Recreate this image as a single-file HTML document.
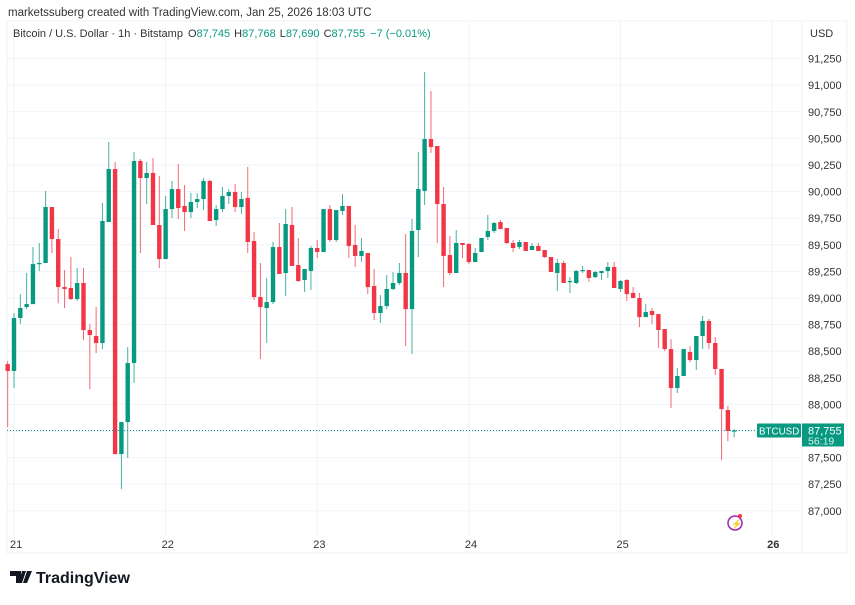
<!DOCTYPE html>
<html><head><meta charset="utf-8">
<style>
body{margin:0;background:#fff;width:855px;height:600px;overflow:hidden;font-family:"Liberation Sans",sans-serif;}
svg text{font-family:"Liberation Sans",sans-serif;}
</style></head>
<body>
<svg id="chart" width="855" height="600" viewBox="0 0 855 600" xmlns="http://www.w3.org/2000/svg">
<rect x="0" y="0" width="855" height="600" fill="#fff"/>
<text x="8" y="16" font-size="11.5" fill="#333">marketssuberg created with TradingView.com, Jan 25, 2026 18:03 UTC</text>
<rect x="7" y="21" width="840" height="532" fill="none" stroke="#eef0f3"/>
<line x1="802" y1="21" x2="802" y2="553" stroke="#eef0f3"/>
<g id="grid"></g>
<g id="candles"></g>
<g id="axes"></g>
<text y="37" font-size="11" fill="#333"><tspan x="13">Bitcoin / U.S. Dollar · 1h · Bitstamp</tspan><tspan dx="5">O</tspan><tspan fill="#089981">87,745</tspan><tspan dx="4">H</tspan><tspan fill="#089981">87,768</tspan><tspan dx="4">L</tspan><tspan fill="#089981">87,690</tspan><tspan dx="4">C</tspan><tspan fill="#089981">87,755</tspan><tspan dx="5" fill="#089981">−7 (−0.01%)</tspan></text>
<text x="810" y="37" font-size="11" fill="#333">USD</text>
<g>
<path d="M10 571h11v12h-5v-7h-6z M22 571h4l-4 12h-3z M27 571h5l-5 12h-4z" fill="#131722"/>
<text x="36" y="583" font-size="16" font-weight="bold" fill="#131722">TradingView</text>
</g>
<g>
<circle cx="735" cy="523" r="7" fill="none" stroke="#9c27b0" stroke-width="1.5"/>
<text x="731" y="527" font-size="9" fill="#9c27b0">⚡</text>
<circle cx="740" cy="516" r="2" fill="#f23645"/>
</g>
</svg>
<script>
const opens=[88379,88314,88812,88915,88943,89319,89329,89855,89554,89103,89094,88990,89141,88699,88643,88577,89714,90212,87533,87834,88389,90288,90128,90175,89686,89366,89836,90024,89865,89808,89902,89930,90100,89733,89836,89959,89996,89855,89940,89536,89009,88906,88962,89479,89235,89686,89310,89169,89254,89470,89432,89836,89545,89818,89865,89498,89395,89423,89113,88859,88925,89085,89141,89235,88896,89639,90006,90494,90429,89883,89404,89235,89517,89507,89338,89432,89573,89630,89714,89658,89517,89479,89526,89451,89489,89451,89385,89235,89329,89150,89141,89254,89263,89197,89235,89254,89291,89085,89169,89047,89000,88821,88878,88849,88708,88520,88154,88267,88492,88417,88643,88784,88577,88333,87947,87745];
const highs=[88408,88859,89037,89235,89479,89517,90006,89855,89649,89263,89385,89282,89282,88755,88915,89893,90466,90278,87834,88539,90372,90306,90278,90316,90147,89959,90100,90259,90062,89987,89987,90128,90109,89874,90043,90024,90071,89996,90231,89620,89329,89188,89526,89705,89836,89855,89564,89273,89489,89545,89836,89874,89827,89977,89865,89686,89564,89423,89273,89028,89216,89244,89329,89601,89742,90372,91124,90946,90429,90043,89583,89639,89517,89517,89470,89564,89780,89714,89733,89658,89545,89545,89526,89517,89517,89451,89385,89367,89348,89197,89263,89301,89263,89254,89254,89338,89338,89169,89178,89103,89047,88943,88906,88849,88708,88614,88342,88520,88548,88643,88831,88803,88633,88333,87985,87768];
const lows=[87787,88154,88755,88896,88943,89254,89329,89423,88950,88906,88981,88972,88605,88144,88483,88520,89714,87533,87204,87496,88201,89423,89883,89686,89282,89366,89752,89742,89630,89752,89846,89827,89724,89677,89808,89883,89808,89790,89423,88981,88426,88577,88943,89226,89019,89301,89150,89056,89075,89376,89432,89526,89526,89780,89376,89291,89338,89037,88793,88765,88896,89075,89122,88549,88473,89385,89874,90363,89517,89103,89216,89235,89376,89319,89338,89432,89545,89611,89648,89507,89432,89460,89442,89451,89442,89376,89244,89066,89141,89047,89131,89235,89150,89188,89169,89188,89094,89056,88972,89000,88727,88821,88755,88530,88502,87966,88107,88267,88398,88323,88520,88520,88276,87477,87655,87690];
const closes=[88314,88812,88906,88943,89319,89329,89855,89554,89103,89085,88990,89141,88699,88652,88577,89724,90212,87533,87834,88389,90288,90128,90175,89686,89366,89836,90024,89846,89808,89902,89930,90100,89724,89836,89959,89996,89855,89930,89526,89009,88915,88962,89479,89226,89695,89301,89160,89273,89470,89432,89836,89545,89827,89865,89489,89395,89442,89103,88859,88925,89085,89141,89235,88896,89630,90024,90494,90419,89883,89395,89235,89517,89498,89338,89423,89564,89630,89705,89648,89517,89470,89526,89442,89489,89442,89385,89244,89329,89141,89160,89254,89263,89188,89244,89254,89291,89094,89160,89037,89000,88821,88868,88840,88699,88520,88154,88267,88520,88417,88643,88784,88577,88333,87956,87750,87755];
const priceTicks=[91250,91000,90750,90500,90250,90000,89750,89500,89250,89000,88750,88500,88250,88000,87750,87500,87250,87000];
const dayLabels=["21","22","23","24","25","26"];
const lastPrice=87755;

const NS="http://www.w3.org/2000/svg";
function yOf(p){return 431-(p-87750)*26.6/250;}
function xOfHour(h){return 14+h*151.62/24;}
function xOfCandle(i){return xOfHour(i-1);}
function el(tag,attrs,parent){const e=document.createElementNS(NS,tag);for(const k in attrs)e.setAttribute(k,attrs[k]);parent.appendChild(e);return e;}
const grid=document.getElementById('grid'),cg=document.getElementById('candles'),ax=document.getElementById('axes');
priceTicks.forEach(p=>{
  const y=yOf(p);
  const l=el('line',{x1:7,x2:802,y1:y,y2:y,stroke:'#f0f3fa'},grid);
  
  
  if(Math.abs(p-lastPrice)<120) return;
  const t=el('text',{x:808,y:y+4,'font-size':11,fill:'#333'},ax);
  t.textContent=p.toLocaleString('en-US');
  
  
});
dayLabels.forEach((d,i)=>{
  const x=xOfHour(i*24);
  const l=el('line',{x1:x,x2:x,y1:21,y2:535,stroke:'#f0f3fa'},grid);
  
  
  const t=el('text',{x:x-(i==5?5:4),y:548,'font-size':11,fill:'#333','font-weight':i==5?'bold':'normal'},ax);
  t.textContent=d;
  
  
});
opens.forEach((o,i)=>{
  const c=closes[i],h=highs[i],l=lows[i];
  const up=c>=o, col=up?'#089981':'#f23645';
  const x=xOfCandle(i);
  const g=el('g',{},cg);
  
  
  el('line',{x1:x,x2:x,y1:yOf(h),y2:yOf(l),stroke:col,'stroke-width':1,opacity:0.75},g);
  const top=Math.min(yOf(o),yOf(c)),hh=Math.max(1.2,Math.abs(yOf(o)-yOf(c)));
  el('rect',{x:x-2.2,y:top,width:4.4,height:hh,fill:col},g);
});
const ly=yOf(lastPrice);
const pl=el('line',{x1:7,x2:802,y1:ly,y2:ly,stroke:'#089981','stroke-dasharray':'1 2'},ax);


const sb=el('g',{},ax);


el('rect',{x:757,y:ly-7,width:44,height:14,fill:'#089981',rx:1},sb);
el('text',{x:759,y:ly+4,'font-size':9.8,fill:'#fff'},sb).textContent='BTCUSD';
const pb=el('g',{},ax);


el('rect',{x:802,y:ly-7,width:42,height:23,fill:'#089981'},pb);
el('text',{x:808,y:ly+4,'font-size':11,fill:'#fff'},pb).textContent=lastPrice.toLocaleString('en-US');
el('text',{x:808,y:ly+14,'font-size':10.5,fill:'#d8f0ea'},pb).textContent='56:19';
</script>
</body></html>
